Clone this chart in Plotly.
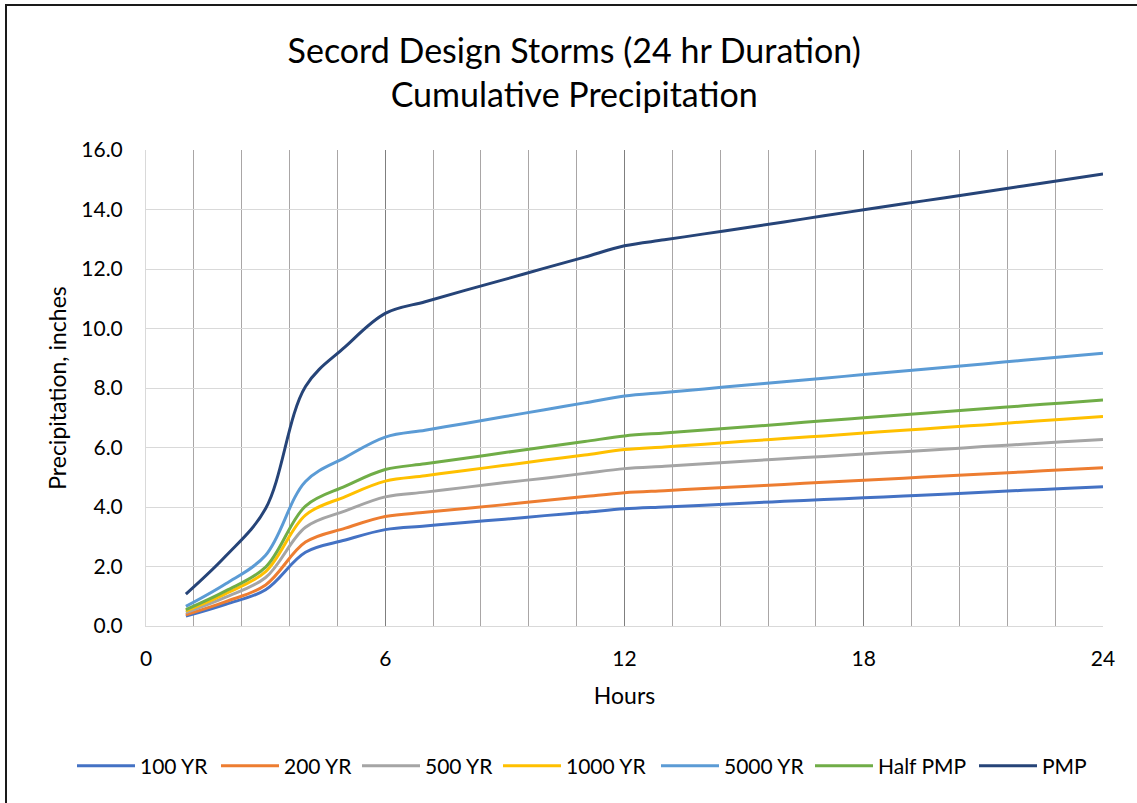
import plotly.graph_objects as go

hours = list(range(1, 25))

yr100 = [0.33, 0.73, 1.22, 2.48, 2.89, 3.24, 3.36, 3.48, 3.59, 3.71, 3.82, 3.94,
         4.00, 4.06, 4.13, 4.19, 4.25, 4.31, 4.37, 4.43, 4.50, 4.56, 4.62, 4.68]
yr200 = [0.38, 0.82, 1.38, 2.82, 3.29, 3.68, 3.82, 3.95, 4.08, 4.22, 4.35, 4.48,
         4.55, 4.62, 4.69, 4.76, 4.83, 4.90, 4.97, 5.04, 5.11, 5.18, 5.25, 5.32]
yr500 = [0.45, 0.97, 1.63, 3.32, 3.87, 4.34, 4.50, 4.66, 4.82, 4.97, 5.13, 5.29,
         5.37, 5.45, 5.54, 5.62, 5.70, 5.78, 5.86, 5.94, 6.03, 6.11, 6.19, 6.27]
yr1000 = [0.51, 1.09, 1.83, 3.73, 4.35, 4.87, 5.05, 5.23, 5.40, 5.58, 5.75, 5.93,
          6.02, 6.11, 6.21, 6.30, 6.39, 6.49, 6.58, 6.67, 6.76, 6.86, 6.95, 7.04]
yr5000 = [0.66, 1.42, 2.38, 4.86, 5.67, 6.35, 6.58, 6.81, 7.04, 7.27, 7.50, 7.73,
          7.85, 7.97, 8.09, 8.21, 8.33, 8.45, 8.57, 8.69, 8.81, 8.93, 9.05, 9.17]
half_pmp = [0.55, 1.18, 1.98, 4.03, 4.70, 5.26, 5.45, 5.64, 5.83, 6.02, 6.20, 6.39,
            6.49, 6.59, 6.69, 6.79, 6.90, 7.00, 7.10, 7.20, 7.30, 7.40, 7.50, 7.60]
pmp = [1.07, 2.35, 3.95, 8.05, 9.39, 10.51, 10.90, 11.28, 11.65, 12.03, 12.40, 12.78,
       12.98, 13.18, 13.38, 13.58, 13.79, 13.99, 14.19, 14.39, 14.59, 14.79, 14.99, 15.19]

series_names = ["100 YR", "200 YR", "500 YR", "1000 YR", "5000 YR", "Half PMP", "PMP"]
series_values = [yr100, yr200, yr500, yr1000, yr5000, half_pmp, pmp]
colors = ["#4472C4", "#ED7D31", "#A5A5A5", "#FFC000", "#5B9BD5", "#70AD47", "#264478"]

x_ticks = [0, 6, 12, 18, 24]
y_ticks = [0, 2, 4, 6, 8, 10, 12, 14, 16]

FONT = "Lato"
W, H = 1137, 803

# left pixel where each legend entry begins (one legend box per entry)
legend_left_px = [72, 216, 357, 498, 656, 810, 974]

fig = go.Figure()
legend_layouts = {}
for i, (name, vals, col) in enumerate(zip(series_names, series_values, colors)):
    lg = "legend" if i == 0 else f"legend{i + 1}"
    fig.add_trace(go.Scatter(
        x=hours, y=vals, name=name, mode="lines", legend=lg,
        line=dict(color=col, width=3, shape="spline", smoothing=1.0),
    ))
    legend_layouts[lg] = dict(
        orientation="h", xref="container", yref="container",
        x=legend_left_px[i] / W, xanchor="left",
        y=1 - 766 / H, yanchor="middle",
        font=dict(family=FONT, size=21, color="#000000"),
        itemwidth=58, bgcolor="rgba(0,0,0,0)",
    )

fig.update_layout(
    width=W, height=H,
    margin=dict(l=146, r=34, t=150, b=177),
    paper_bgcolor="white", plot_bgcolor="white",
    font=dict(family=FONT, color="#000000"),
    title=dict(
        text="Secord Design Storms (24 hr Duration)<br>Cumulative Precipitation",
        font=dict(family=FONT, size=34, color="#000000"),
        x=0.505, xref="container", xanchor="center",
        y=0.922, yref="container", yanchor="top",
    ),
    xaxis=dict(
        range=[0, 24], tickmode="array", tickvals=x_ticks,
        ticktext=[str(v) for v in x_ticks],
        showgrid=True, gridcolor="#7f7f7f", gridwidth=1.3,
        minor=dict(dtick=1.2, tick0=0, showgrid=True, gridcolor="#a9a6a6", gridwidth=1.3),
        zeroline=True, zerolinecolor="#d9d9d9", zerolinewidth=1,
        showline=True, linecolor="#d9d9d9", linewidth=1,
        ticks="", ticklabelstandoff=14,
        tickfont=dict(family=FONT, size=21, color="#000000"),
        title=dict(text="Hours", font=dict(family=FONT, size=23, color="#000000"), standoff=18),
    ),
    yaxis=dict(
        range=[0, 16], tickmode="array", tickvals=y_ticks,
        ticktext=[f"{v:.1f}" for v in y_ticks],
        showgrid=True, gridcolor="#d9d9d9", gridwidth=1.3,
        zeroline=True, zerolinecolor="#d9d9d9", zerolinewidth=1,
        showline=True, linecolor="#d9d9d9", linewidth=1,
        ticks="", ticklabelstandoff=18,
        tickfont=dict(family=FONT, size=21, color="#000000"),
        title=dict(text="Precipitation, inches", font=dict(family=FONT, size=23, color="#000000"), standoff=8),
    ),
    showlegend=True,
    **legend_layouts,
)

# Outer chart border (top and left edges visible in the reference)
fig.add_shape(type="line", xref="paper", yref="paper",
              x0=(6 - 146) / 957, x1=(1140 - 146) / 957,
              y0=(626 - 5) / 476, y1=(626 - 5) / 476,
              line=dict(color="#1a1a1a", width=2))
fig.add_shape(type="line", xref="paper", yref="paper",
              x0=(6 - 146) / 957, x1=(6 - 146) / 957,
              y0=(626 - 4) / 476, y1=(626 - 806) / 476,
              line=dict(color="#1a1a1a", width=2))

fig.write_html("out.html")
